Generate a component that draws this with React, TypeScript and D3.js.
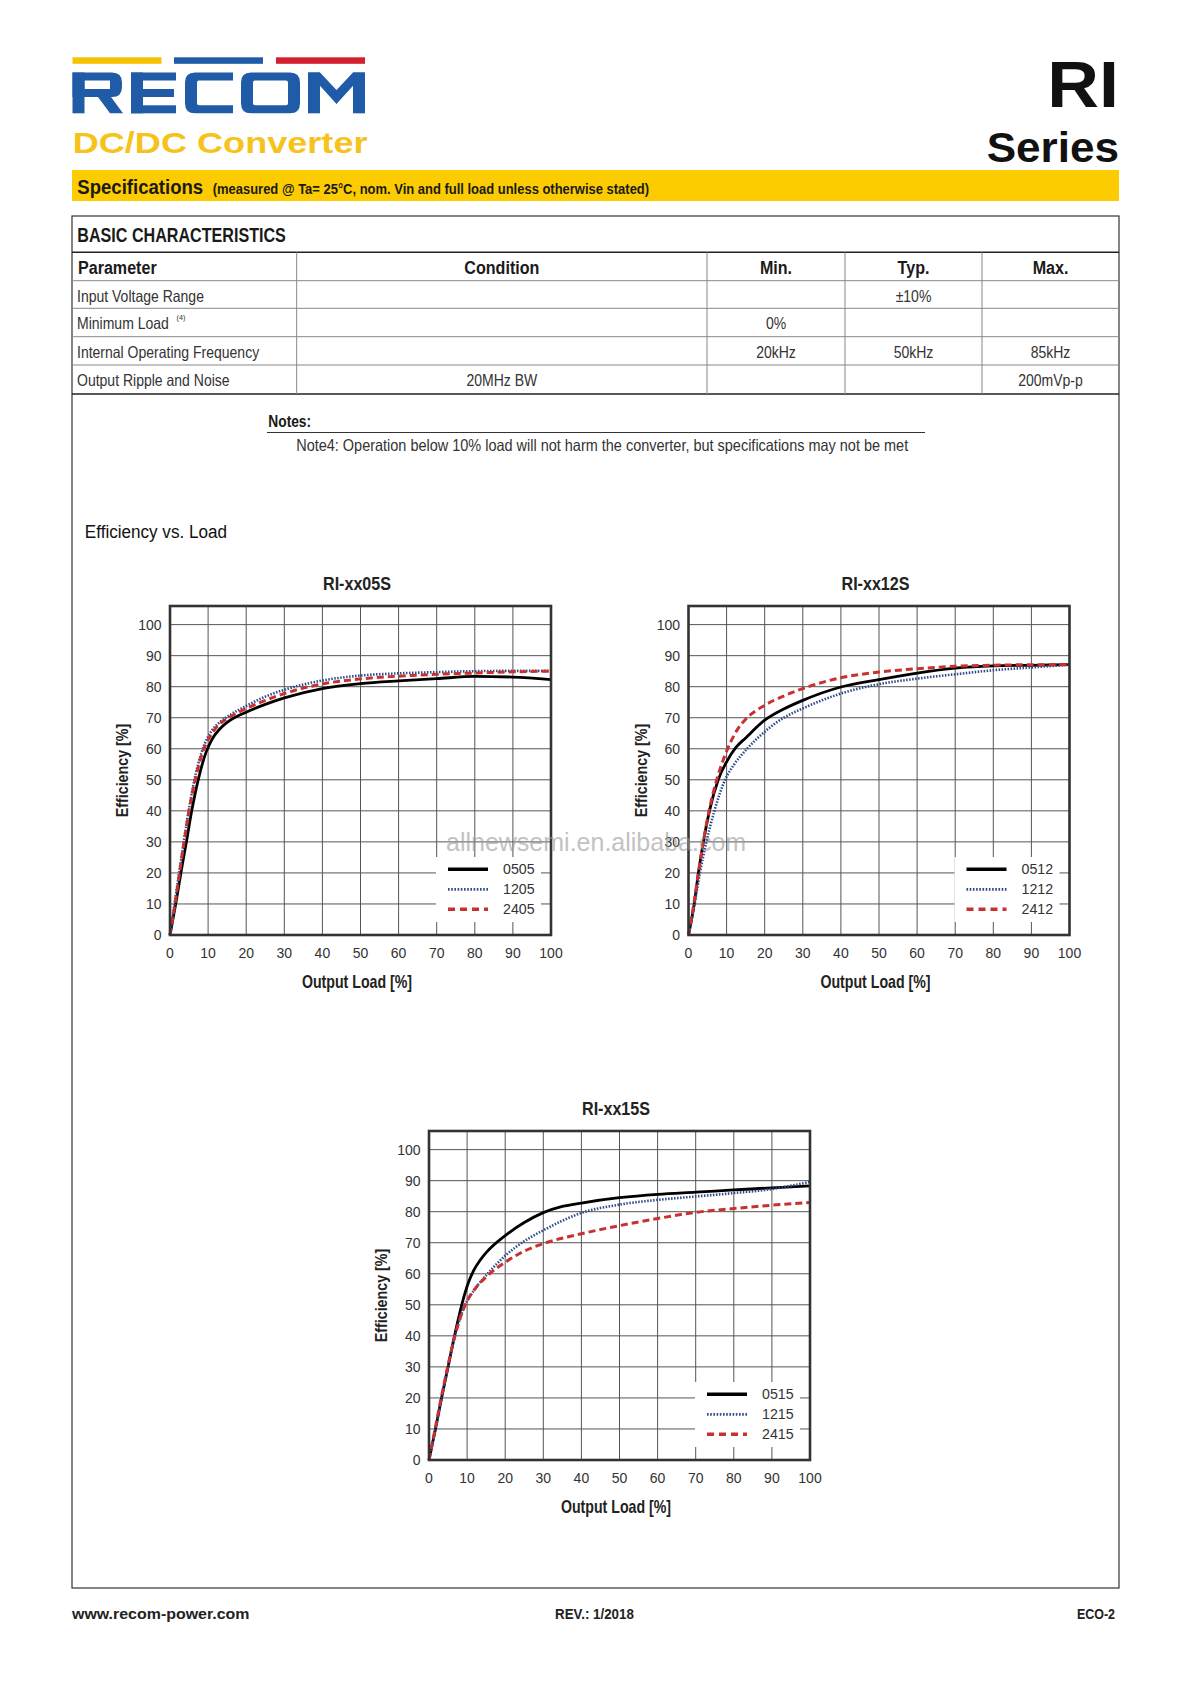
import React from 'react';
import * as d3 from 'd3';

const FONT = '"Liberation Sans", Arial, Helvetica, sans-serif';

// ---- table data ----
const tableHeads = ['Parameter', 'Condition', 'Min.', 'Typ.', 'Max.'];
const tableParams = ['Input Voltage Range', 'Minimum Load', 'Internal Operating Frequency', 'Output Ripple and Noise'];
const tableConditions = ['', '', '', '20MHz BW'];
const tableMin = ['', '0%', '20kHz', ''];
const tableTyp = ['±10%', '', '50kHz', ''];
const tableMax = ['', '', '85kHz', '200mVp-p'];

// ---- chart axes ----
const loadTicks = [0, 10, 20, 30, 40, 50, 60, 70, 80, 90, 100];
const effTicks = [0, 10, 20, 30, 40, 50, 60, 70, 80, 90, 100];

// ---- efficiency curves [output load %, efficiency %] ----
const eff0505 = [[0, 0], [1.5, 10], [3, 21], [4.3, 30], [5.7, 40], [7.4, 50], [9.5, 59], [11, 63], [13, 66.3], [15, 68.5], [20, 71.8], [25, 74.3], [30, 76.4], [40, 79.4], [50, 81], [60, 81.9], [70, 82.6], [80, 83.3], [90, 83.1], [100, 82.3]];
const eff1205 = [[0, 0], [1.2, 10], [2.4, 20], [3.6, 30], [4.9, 40], [6.4, 50], [8.6, 60], [10.5, 65], [13, 68.5], [15, 70.3], [20, 73.8], [25, 76.8], [30, 79], [40, 82], [50, 83.6], [60, 84.3], [70, 84.7], [80, 85], [90, 85.1], [100, 85.1]];
const eff2405 = [[0, 0], [1.3, 10], [2.5, 20], [3.7, 30], [5, 40], [6.6, 50], [8.9, 60], [10.8, 64.5], [13, 68], [15, 69.7], [20, 73], [25, 75.6], [30, 77.8], [40, 80.9], [50, 82.5], [60, 83.4], [70, 84], [80, 84.4], [90, 84.8], [100, 85]];

const eff0512 = [[0, 0], [1.5, 10], [2.6, 20], [3.9, 30], [5.5, 40], [7.8, 50], [10, 55.8], [12.5, 60.5], [15, 63.5], [20, 69.2], [25, 72.8], [30, 75.6], [40, 79.9], [50, 82.3], [60, 84.4], [70, 86], [80, 86.7], [90, 86.9], [100, 87.1]];
const eff1212 = [[0, 0], [1.6, 10], [3, 20], [4.7, 30], [6.8, 40], [9.6, 50], [12, 55], [15, 59.5], [20, 65.5], [25, 70], [30, 73], [40, 77.8], [50, 80.8], [60, 82.6], [70, 84], [80, 85.3], [90, 86.2], [100, 87.1]];
const eff2412 = [[0, 0], [1.4, 10], [2.6, 20], [3.9, 30], [5.4, 40], [7.4, 50], [9.3, 57], [11, 62], [13, 66.5], [15, 69.5], [20, 74], [25, 77], [30, 79.4], [40, 82.9], [50, 84.7], [60, 85.8], [70, 86.6], [80, 86.9], [90, 87.1], [100, 87.1]];

const eff0515 = [[0, 0], [1.7, 10], [3.3, 20], [5, 30], [6.7, 40], [8.6, 50], [10.3, 57], [11.7, 61], [13.5, 64.5], [15, 66.8], [20, 72.3], [25, 76.5], [30, 79.7], [35, 81.7], [40, 82.8], [50, 84.5], [60, 85.6], [70, 86.3], [80, 87], [90, 87.7], [100, 88.3]];
const eff1215 = [[0, 0], [1.7, 10], [3.3, 20], [5, 30], [6.8, 40], [9.5, 50], [12, 55], [15, 59.5], [20, 65.8], [25, 70.5], [30, 74], [40, 79.6], [50, 82.3], [60, 83.8], [70, 84.9], [80, 86], [90, 87.3], [100, 89.6]];
const eff2415 = [[0, 0], [1.6, 10], [3.2, 20], [4.9, 30], [6.8, 40], [9.5, 50], [12, 55], [15, 59], [20, 63.7], [25, 67.3], [30, 69.7], [40, 72.9], [50, 75.5], [60, 77.8], [70, 79.8], [80, 81], [90, 82.1], [100, 83]];

const names05 = ['0505', '1205', '2405'];
const names12 = ['0512', '1212', '2412'];
const names15 = ['0515', '1215', '2415'];

// solid black, dotted navy, dashed red
const lineStyles = [
  { stroke: '#000', width: 2.8, dash: undefined, lgWidth: 3.6, lgDash: undefined },
  { stroke: '#2c4a8c', width: 2.6, dash: '1.5,1.5', lgWidth: 2.8, lgDash: '1.6,1.6' },
  { stroke: '#c8312f', width: 3, dash: '7,4', lgWidth: 3.6, lgDash: '7,5' },
];

const PW = 381;
const PH = 329;

// condensed text helper (squeezes Liberation Sans horizontally)
const CText = ({ x, y, size, sx = 1, weight = 'normal', anchor = 'start', fill = '#222', rotate = 0, children }: any) => (
  <text
    transform={`translate(${x},${y}) rotate(${rotate}) scale(${sx},1)`}
    fontSize={size}
    fontWeight={weight}
    textAnchor={anchor}
    fill={fill}
    fontFamily={FONT}
  >
    {children}
  </text>
);

const EffChart = ({ left, top, title, names, series }: any) => {
  const x = d3.scaleLinear().domain([0, 100]).range([left, left + PW]);
  const y = d3.scaleLinear().domain([0, 106]).range([top + PH, top]);
  const line = d3.line<number[]>()
    .x(d => x(d[0]))
    .y(d => y(d[1]))
    .curve(d3.curveMonotoneX);
  const cx = left + PW / 2 - 3.5;
  const bottom = top + PH;
  const lgX = left + PW - 115;
  const lgY = bottom - 78;

  return (
    <g>
      <CText x={cx} y={top - 16} size={18.5} sx={0.87} weight="bold" anchor="middle" fill="#222">{title}</CText>

      {/* grid */}
      {loadTicks.slice(1, -1).map(t => (
        <line key={'gx' + t} x1={x(t)} x2={x(t)} y1={top} y2={bottom} stroke="#555" strokeWidth={1} />
      ))}
      {effTicks.slice(1).map(t => (
        <line key={'gy' + t} x1={left} x2={left + PW} y1={y(t)} y2={y(t)} stroke="#555" strokeWidth={1} />
      ))}

      {/* legend background hides grid */}
      <rect x={lgX} y={lgY} width={105} height={65} fill="#fff" />

      {series.map((s: number[][], i: number) => (
        <path
          key={'s' + i}
          d={line(s) || ''}
          fill="none"
          stroke={lineStyles[i].stroke}
          strokeWidth={lineStyles[i].width}
          strokeDasharray={lineStyles[i].dash}
        />
      ))}

      <rect x={left} y={top} width={PW} height={PH} fill="none" stroke="#333" strokeWidth={2.6} />

      {/* tick labels */}
      {effTicks.map(t => (
        <text key={'ty' + t} x={left - 8.5} y={y(t) + 5} fontSize={14} textAnchor="end" fill="#333" fontFamily={FONT}>{t}</text>
      ))}
      {loadTicks.map(t => (
        <text key={'tx' + t} x={x(t)} y={bottom + 22.5} fontSize={14} textAnchor="middle" fill="#333" fontFamily={FONT}>{t}</text>
      ))}

      {/* legend */}
      {names.map((n: string, i: number) => {
        const ly = lgY + 12.3 + i * 20;
        return (
          <g key={'lg' + n}>
            <line x1={lgX + 12} x2={lgX + 52} y1={ly} y2={ly} stroke={lineStyles[i].stroke}
              strokeWidth={lineStyles[i].lgWidth} strokeDasharray={lineStyles[i].lgDash} />
            <text x={lgX + 67} y={ly + 5} fontSize={14.2} fill="#333" fontFamily={FONT}>{n}</text>
          </g>
        );
      })}

      <CText x={cx} y={bottom + 52.7} size={17.5} sx={0.81} weight="bold" anchor="middle" fill="#222">Output Load [%]</CText>
      <CText x={left - 42} y={top + PH / 2} size={17} sx={0.84} weight="bold" anchor="middle" rotate={-90} fill="#222">Efficiency [%]</CText>
    </g>
  );
};

const Logo = () => {
  const blue = '#1f5ba7';
  return (
    <g>
      <rect x={72.5} y={57.3} width={89} height={6.5} fill="#f6c200" />
      <rect x={174} y={57.3} width={89} height={6.5} fill="#1f5ba7" />
      <rect x={276} y={57.3} width={89} height={6.5} fill="#d2202f" />
      <g fill={blue} fillRule="evenodd">
        {/* R */}
        <rect x={72.5} y={72.5} width={12} height={40.8} />
        <path d="M72.5,72.5 H112 Q122,72.5 122,82.5 V87 Q122,97 112,97 H72.5 Z M84.5,80.5 H110 V89 H84.5 Z" />
        <path d="M98,97 H111 L123,113.3 H110 Z" />
        {/* E */}
        <rect x={131} y={72.5} width={12} height={40.8} />
        <rect x={131} y={72.5} width={45} height={8} />
        <rect x={131} y={89} width={43} height={8} />
        <rect x={131} y={105.3} width={45} height={8} />
        {/* C */}
        <path d="M233,72.5 H195 Q185,72.5 185,82.5 V103.3 Q185,113.3 195,113.3 H233 V105.3 H199 Q197,105.3 197,103.3 V82.5 Q197,80.5 199,80.5 H233 Z" />
        {/* O */}
        <path d="M251,72.5 H290 Q300,72.5 300,82.5 V103.3 Q300,113.3 290,113.3 H251 Q241,113.3 241,103.3 V82.5 Q241,72.5 251,72.5 Z M255,80.5 H286 Q288,80.5 288,82.5 V103.3 Q288,105.3 286,105.3 H255 Q253,105.3 253,103.3 V82.5 Q253,80.5 255,80.5 Z" />
        {/* M */}
        <rect x={308} y={72.5} width={12} height={40.8} />
        <rect x={353} y={72.5} width={12} height={40.8} />
        <path d="M308,72.5 H320 L336.5,90 L353,72.5 H365 L336.5,104 Z" />
      </g>
      <CText x={72.7} y={152.5} size={29} sx={1.245} weight="bold" fill="#f6c31c">DC/DC  Converter</CText>
    </g>
  );
};

export default function App() {
  const colX = [72, 296.7, 707, 845, 982, 1119];
  const rowY = [252.3, 280.7, 308.3, 336.7, 365, 394];
  const colMid = (i: number) => (colX[i] + colX[i + 1]) / 2;
  const cells = [tableConditions, tableMin, tableTyp, tableMax];

  return (
    <svg width={1190} height={1683} style={{ position: 'absolute', left: 0, top: 0, background: '#fff' }}>
      <rect x={0} y={0} width={1190} height={1683} fill="#fff" />
      <Logo />
      <CText x={1119} y={107} size={64} sx={1.12} weight="bold" anchor="end" fill="#111">RI</CText>
      <CText x={1119} y={162} size={42} sx={1.05} weight="bold" anchor="end" fill="#111">Series</CText>

      {/* specification band */}
      <rect x={72} y={170} width={1047} height={31} fill="#fccc00" />
      <CText x={77.3} y={194.3} size={21} sx={0.885} weight="bold" fill="#1a1a1a">Specifications</CText>
      <CText x={212.7} y={194.3} size={14.5} sx={0.895} weight="bold" fill="#1a1a1a">(measured @ Ta= 25°C, nom. Vin and full load unless otherwise stated)</CText>

      {/* page frame and table */}
      <rect x={72} y={216} width={1047} height={1372} fill="none" stroke="#333" strokeWidth={1.2} />
      {rowY.map((ry, i) => (
        <line key={'r' + i} x1={72} x2={1119} y1={ry} y2={ry} stroke={i === 0 || i === 5 ? '#222' : '#888'} strokeWidth={i === 0 || i === 5 ? 1.6 : 1} />
      ))}
      {colX.slice(1, -1).map((cx, i) => (
        <line key={'c' + i} x1={cx} x2={cx} y1={rowY[0]} y2={rowY[5]} stroke="#888" strokeWidth={1} />
      ))}
      <CText x={77.3} y={242.3} size={20.4} sx={0.79} weight="bold" fill="#1a1a1a">BASIC CHARACTERISTICS</CText>
      {tableHeads.map((h, i) => (
        <CText key={'h' + h} x={i === 0 ? 78 : colMid(i)} y={274.3} size={18.6} sx={0.865} weight="bold"
          anchor={i === 0 ? 'start' : 'middle'} fill="#1a1a1a">{h}</CText>
      ))}
      {tableParams.map((p, r) => (
        <g key={'p' + r}>
          <CText x={77} y={rowY[r + 1] + 21} size={16.3} sx={0.86} fill="#333">{p}</CText>
          {r === 1 && <CText x={176.5} y={rowY[r + 1] + 12} size={8} sx={0.9} fill="#333">(4)</CText>}
          {cells.map((col, c) => col[r] ? (
            <CText key={'v' + c} x={colMid(c + 1)} y={rowY[r + 1] + 21} size={16.3} sx={0.86} anchor="middle" fill="#333">{col[r]}</CText>
          ) : null)}
        </g>
      ))}

      {/* notes */}
      <CText x={268.3} y={427} size={17} sx={0.81} weight="bold" fill="#1a1a1a">Notes:</CText>
      <line x1={267} x2={925} y1={432.5} y2={432.5} stroke="#333" strokeWidth={1} />
      <CText x={296.2} y={451} size={16.3} sx={0.888} fill="#333">Note4: Operation below 10% load will not harm the converter, but specifications may not be met</CText>

      <CText x={84.8} y={537.5} size={19} sx={0.9} fill="#111">Efficiency vs. Load</CText>

      <EffChart left={170} top={606} title="RI-xx05S" names={names05} series={[eff0505, eff1205, eff2405]} />
      <EffChart left={688.5} top={606} title="RI-xx12S" names={names12} series={[eff0512, eff1212, eff2412]} />
      <EffChart left={429} top={1131} title="RI-xx15S" names={names15} series={[eff0515, eff1215, eff2415]} />

      {/* watermark */}
      <text x={446} y={851} fontSize={25} fill="#9a9a9a" opacity={0.6} fontFamily={FONT}>allnewsemi.en.alibaba.com</text>

      {/* footer */}
      <CText x={72} y={1619} size={14.5} sx={1.1} weight="bold" fill="#222">www.recom-power.com</CText>
      <CText x={555} y={1619} size={14.5} sx={0.92} weight="bold" fill="#222">REV.: 1/2018</CText>
      <CText x={1115} y={1619} size={14.5} sx={0.86} weight="bold" anchor="end" fill="#222">ECO-2</CText>
    </svg>
  );
}
